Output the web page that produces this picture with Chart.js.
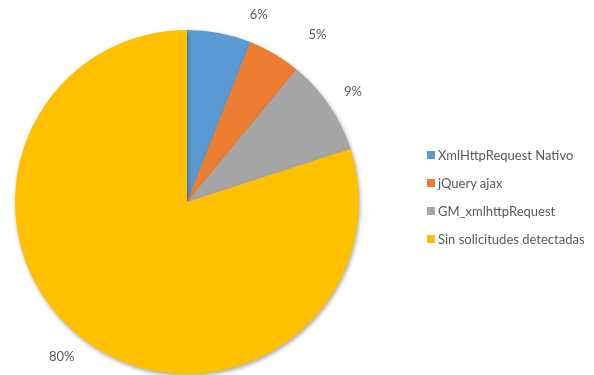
<!DOCTYPE html>
<html>
<head>
<meta charset="utf-8">
<script src="https://cdn.jsdelivr.net/npm/chart.js@4/dist/chart.umd.min.js"></script>
<style>
  html, body { margin: 0; padding: 0; background: #fff; }
  #wrap { position: relative; width: 594px; height: 375px; }
  #legend { position: absolute; left: 427px; top: 147px; font: 13px Lato, "Liberation Sans", sans-serif; color: #595959; }
  #legend div { height: 28px; line-height: 16px; white-space: nowrap; }
  #legend span.box { display: inline-block; width: 8px; height: 8px; margin-right: 3px; vertical-align: 1px; }
</style>
</head>
<body>
<div id="wrap">
  <canvas id="chart" width="594" height="375"></canvas>
  <div id="legend"></div>
</div>
<script>
const labels = ["XmlHttpRequest Nativo", "jQuery ajax", "GM_xmlhttpRequest", "Sin solicitudes detectadas"];
const values = [6, 5, 9, 80];
const colors = ["#5B9BD5", "#ED7D31", "#A5A5A5", "#FFC000"];

// where Excel put the percentage labels: angle from top, clockwise (deg), distance past the rim
const labelSpots = [[21, 28], [38, 40], [56.5, 27], [219, 27]];

const pctLabels = {
  id: 'pctLabels',
  afterDraw(chart) {
    const ctx = chart.ctx;
    const total = values.reduce((a, b) => a + b, 0);
    const arc = chart.getDatasetMeta(0).data[0];
    ctx.save();
    ctx.font = '13px Lato, "Liberation Sans", sans-serif';
    ctx.fillStyle = '#595959';
    ctx.textAlign = 'center';
    ctx.textBaseline = 'middle';
    values.forEach((v, i) => {
      const [deg, off] = labelSpots[i];
      const a = (deg - 90) * Math.PI / 180;
      const r = arc.outerRadius + off;
      ctx.fillText(Math.round(v / total * 100) + '%', arc.x + r * Math.cos(a), arc.y + r * Math.sin(a));
    });
    ctx.restore();
  }
};

const pieShadow = {
  id: 'pieShadow',
  beforeDatasetsDraw(chart) {
    chart.ctx.save();
    chart.ctx.shadowColor = 'rgba(0,0,0,0.35)';
    chart.ctx.shadowBlur = 4;
    chart.ctx.shadowOffsetX = 1;
    chart.ctx.shadowOffsetY = 2;
  },
  afterDatasetsDraw(chart) {
    chart.ctx.restore();
  }
};

new Chart(document.getElementById('chart').getContext('2d'), {
  type: 'pie',
  data: {
    labels: labels,
    datasets: [{ data: values, backgroundColor: colors, borderWidth: 0 }]
  },
  options: {
    responsive: false,
    animation: false,
    layout: { padding: { left: 15, top: 30, right: 235, bottom: 1 } },
    plugins: { legend: { display: false }, tooltip: { enabled: false } }
  },
  plugins: [pieShadow, pctLabels]
});

const legend = document.getElementById('legend');
labels.forEach((l, i) => {
  const row = document.createElement('div');
  row.innerHTML = '<span class="box" style="background:' + colors[i] + '"></span>' + l;
  legend.appendChild(row);
});
</script>
</body>
</html>
